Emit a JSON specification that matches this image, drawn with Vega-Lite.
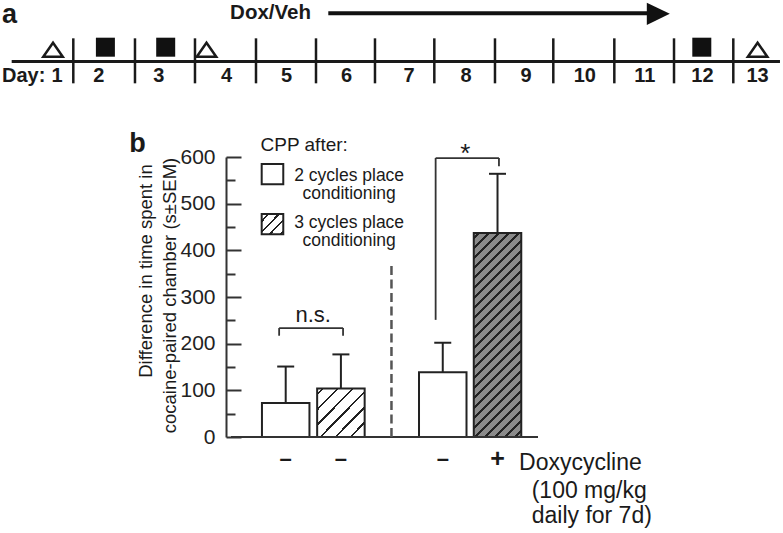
{
  "$schema": "https://vega.github.io/schema/vega-lite/v6.json",
  "width": 317,
  "height": 280,
  "autosize": {"type": "none"},
  "padding": {"left": 226, "top": 157, "right": 240, "bottom": 96},
  "background": "white",
  "config": {"view": {"stroke": null}, "font": "Liberation Sans", "text": {"color": "#1a1a1a"}},
  "datasets": {
    "boundaries": [{"b": 1.505}, {"b": 2.533}, {"b": 3.533}, {"b": 4.55}, {"b": 5.55}, {"b": 6.533}, {"b": 7.522}, {"b": 8.533}, {"b": 9.505}, {"b": 10.522}, {"b": 11.517}, {"b": 12.505}],
    "days": [{"label": "1", "day": 1.233}, {"label": "2", "day": 1.93}, {"label": "3", "day": 2.93}, {"label": "4", "day": 4.06}, {"label": "5", "day": 5.06}, {"label": "6", "day": 6.06}, {"label": "7", "day": 7.1}, {"label": "8", "day": 8.05}, {"label": "9", "day": 9.05}, {"label": "10", "day": 10.03}, {"label": "11", "day": 11.03}, {"label": "12", "day": 11.99}, {"label": "13", "day": 12.91}],
    "events": [{"day": 1.167, "session": "CPP test"}, {"day": 2.04, "session": "conditioning"}, {"day": 3.045, "session": "conditioning"}, {"day": 3.725, "session": "CPP test"}, {"day": 11.98, "session": "conditioning"}, {"day": 12.91, "session": "CPP test"}],
    "bars": [
      {"cycles": "2 cycles", "doxycycline": "–", "pos": 0.991, "mean": 73, "upper": 151},
      {"cycles": "3 cycles", "doxycycline": "–", "pos": 1.991, "mean": 104, "upper": 177},
      {"cycles": "2 cycles", "doxycycline": "–", "pos": 3.836, "mean": 139, "upper": 202},
      {"cycles": "3 cycles", "doxycycline": "+", "pos": 4.828, "mean": 437, "upper": 564}
    ]
  },
  "layer": [
    {
      "layer": [
        {
          "data": {"values": [{}]},
          "mark": {"type": "rule", "strokeWidth": 3, "color": "#1a1a1a"},
          "encoding": {
            "x": {"datum": 0.478, "type": "quantitative", "scale": {"domain": [4.05, 9.33333], "nice": false, "zero": false}, "axis": null},
            "x2": {"datum": 13.283},
            "y": {"datum": 0, "type": "quantitative", "scale": {"domain": [-16.6889, -4.2444], "nice": false, "zero": false}, "axis": null}
          }
        },
        {
          "data": {"name": "boundaries"},
          "mark": {"type": "rule", "strokeWidth": 2.5, "color": "#1a1a1a"},
          "encoding": {
            "x": {"field": "b", "type": "quantitative", "scale": {"domain": [4.05, 9.33333], "nice": false, "zero": false}, "axis": null},
            "y": {"datum": 1.03, "type": "quantitative", "scale": {"domain": [-16.6889, -4.2444], "nice": false, "zero": false}, "axis": null},
            "y2": {"datum": -0.97}
          }
        },
        {
          "data": {"name": "days"},
          "mark": {"type": "text", "fontSize": 20, "fontWeight": "bold", "align": "center", "baseline": "alphabetic"},
          "encoding": {
            "x": {"field": "day", "type": "quantitative", "scale": {"domain": [4.05, 9.33333], "nice": false, "zero": false}, "axis": null},
            "y": {"datum": -0.933, "type": "quantitative", "scale": {"domain": [-16.6889, -4.2444], "nice": false, "zero": false}, "axis": null},
            "text": {"field": "label"}
          }
        },
        {
          "data": {"values": [{}]},
          "mark": {"type": "text", "text": "Day:", "fontSize": 20, "fontWeight": "bold", "align": "left", "baseline": "alphabetic"},
          "encoding": {
            "x": {"datum": 0.3167, "type": "quantitative", "scale": {"domain": [4.05, 9.33333], "nice": false, "zero": false}, "axis": null},
            "y": {"datum": -0.933, "type": "quantitative", "scale": {"domain": [-16.6889, -4.2444], "nice": false, "zero": false}, "axis": null}
          }
        },
        {
          "data": {"name": "events"},
          "transform": [{"filter": "datum.session === 'CPP test'"}],
          "mark": {"type": "point", "shape": "M0,-0.72L1,0.72L-1,0.72Z", "size": 380, "filled": false, "fill": "white", "stroke": "#1a1a1a", "strokeWidth": 2.5, "opacity": 1},
          "encoding": {
            "x": {"field": "day", "type": "quantitative", "scale": {"domain": [4.05, 9.33333], "nice": false, "zero": false}, "axis": null},
            "y": {"datum": 0.524, "type": "quantitative", "scale": {"domain": [-16.6889, -4.2444], "nice": false, "zero": false}, "axis": null}
          }
        },
        {
          "data": {"name": "events"},
          "transform": [{"filter": "datum.session === 'conditioning'"}],
          "mark": {"type": "point", "shape": "square", "size": 361, "filled": true, "color": "#111111", "opacity": 1},
          "encoding": {
            "x": {"field": "day", "type": "quantitative", "scale": {"domain": [4.05, 9.33333], "nice": false, "zero": false}, "axis": null},
            "y": {"datum": 0.636, "type": "quantitative", "scale": {"domain": [-16.6889, -4.2444], "nice": false, "zero": false}, "axis": null}
          }
        },
        {
          "data": {"values": [{}]},
          "mark": {"type": "text", "text": "Dox/Veh", "fontSize": 20.5, "fontWeight": "bold", "align": "center", "baseline": "alphabetic"},
          "encoding": {
            "x": {"datum": 4.792, "type": "quantitative", "scale": {"domain": [4.05, 9.33333], "nice": false, "zero": false}, "axis": null},
            "y": {"datum": 1.876, "type": "quantitative", "scale": {"domain": [-16.6889, -4.2444], "nice": false, "zero": false}, "axis": null}
          }
        },
        {
          "data": {"values": [{}]},
          "mark": {"type": "rule", "strokeWidth": 4, "color": "#111111"},
          "encoding": {
            "x": {"datum": 5.755, "type": "quantitative", "scale": {"domain": [4.05, 9.33333], "nice": false, "zero": false}, "axis": null},
            "x2": {"datum": 11.117},
            "y": {"datum": 2.142, "type": "quantitative", "scale": {"domain": [-16.6889, -4.2444], "nice": false, "zero": false}, "axis": null}
          }
        },
        {
          "data": {"values": [{}]},
          "mark": {"type": "point", "shape": "M-1,-0.97L1,0L-1,0.97Z", "size": 529, "filled": true, "color": "#111111", "opacity": 1},
          "encoding": {
            "x": {"datum": 11.255, "type": "quantitative", "scale": {"domain": [4.05, 9.33333], "nice": false, "zero": false}, "axis": null},
            "y": {"datum": 2.12, "type": "quantitative", "scale": {"domain": [-16.6889, -4.2444], "nice": false, "zero": false}, "axis": null}
          }
        },
        {
          "data": {"values": [{}]},
          "mark": {"type": "text", "text": "a", "fontSize": 27, "fontWeight": "bold", "align": "left", "baseline": "alphabetic"},
          "encoding": {
            "x": {"datum": 0.317, "type": "quantitative", "scale": {"domain": [4.05, 9.33333], "nice": false, "zero": false}, "axis": null},
            "y": {"datum": 1.711, "type": "quantitative", "scale": {"domain": [-16.6889, -4.2444], "nice": false, "zero": false}, "axis": null}
          }
        }
      ]
    },
    {
      "resolve": {"axis": {"y": "independent"}},
      "layer": [
        {
          "data": {"name": "bars"},
          "transform": [{"filter": "datum.cycles === '2 cycles'"}],
          "mark": {"type": "bar", "orient": "vertical", "width": 47.5, "fill": "white", "stroke": "#222222", "strokeWidth": 2},
          "encoding": {
            "x": {"field": "pos", "type": "quantitative", "scale": {"domain": [0, 5.5614], "nice": false, "zero": false}, "axis": null},
            "y": {"field": "mean", "type": "quantitative", "scale": {"domain": [0, 600], "nice": false, "zero": false},
              "axis": {
                "orient": "left",
                "values": [0, 50, 100, 150, 200, 250, 300, 350, 400, 450, 500, 550, 600],
                "labelExpr": "datum.value % 100 === 0 ? datum.label : ''",
                "tickSize": {"condition": {"test": "datum.value % 100 === 0", "value": -15}, "value": -9},
                "labelPadding": 26,
                "title": null,
                "grid": false,
                "domainColor": "#333333",
                "domainWidth": 2,
                "tickColor": "#333333",
                "tickWidth": 2,
                "labelFontSize": 21,
                "labelColor": "#222222",
                "labelFont": "Liberation Sans",
                "labelFlush": false,
                "labelOverlap": false
              }
            },
            "y2": {"datum": 0}
          }
        },
        {
          "data": {"name": "bars"},
          "mark": {"type": "rule", "strokeWidth": 2, "color": "#222222"},
          "encoding": {
            "x": {"field": "pos", "type": "quantitative", "scale": {"domain": [0, 5.5614], "nice": false, "zero": false}, "axis": null},
            "y": {"field": "mean", "type": "quantitative", "scale": {"domain": [0, 600], "nice": false, "zero": false}, "axis": null},
            "y2": {"field": "upper"}
          }
        },
        {
          "data": {"name": "bars"},
          "mark": {"type": "tick", "orient": "horizontal", "size": 17, "thickness": 2, "color": "#222222", "opacity": 1},
          "encoding": {
            "x": {"field": "pos", "type": "quantitative", "scale": {"domain": [0, 5.5614], "nice": false, "zero": false}, "axis": null},
            "y": {"field": "upper", "type": "quantitative", "scale": {"domain": [0, 600], "nice": false, "zero": false}, "axis": null}
          }
        },
        {
          "data": {"name": "bars"},
          "transform": [{"filter": "datum.cycles === '3 cycles' && datum.doxycycline !== '+'"}],
          "mark": {"type": "bar", "orient": "vertical", "width": 47.5, "stroke": "#222222", "strokeWidth": 2,
            "fill": {"gradient": "linear", "x1": 0, "y1": 0, "x2": 1, "y2": 1, "stops": [
              {"offset": 0, "color": "#ffffff"},
              {"offset": 0.047, "color": "#ffffff"}, {"offset": 0.047, "color": "#222222"}, {"offset": 0.073, "color": "#222222"}, {"offset": 0.073, "color": "#ffffff"},
              {"offset": 0.205, "color": "#ffffff"}, {"offset": 0.205, "color": "#222222"}, {"offset": 0.231, "color": "#222222"}, {"offset": 0.231, "color": "#ffffff"},
              {"offset": 0.363, "color": "#ffffff"}, {"offset": 0.363, "color": "#222222"}, {"offset": 0.389, "color": "#222222"}, {"offset": 0.389, "color": "#ffffff"},
              {"offset": 0.521, "color": "#ffffff"}, {"offset": 0.521, "color": "#222222"}, {"offset": 0.547, "color": "#222222"}, {"offset": 0.547, "color": "#ffffff"},
              {"offset": 0.679, "color": "#ffffff"}, {"offset": 0.679, "color": "#222222"}, {"offset": 0.705, "color": "#222222"}, {"offset": 0.705, "color": "#ffffff"},
              {"offset": 0.837, "color": "#ffffff"}, {"offset": 0.837, "color": "#222222"}, {"offset": 0.863, "color": "#222222"}, {"offset": 0.863, "color": "#ffffff"},
              {"offset": 1, "color": "#ffffff"}
            ]}},
          "encoding": {
            "x": {"field": "pos", "type": "quantitative", "scale": {"domain": [0, 5.5614], "nice": false, "zero": false}, "axis": null},
            "y": {"field": "mean", "type": "quantitative", "scale": {"domain": [0, 600], "nice": false, "zero": false}, "axis": null},
            "y2": {"datum": 0}
          }
        },
        {
          "data": {"name": "bars"},
          "transform": [{"filter": "datum.doxycycline === '+'"}],
          "mark": {"type": "bar", "orient": "vertical", "width": 47.5, "stroke": "#222222", "strokeWidth": 2,
            "fill": {"gradient": "linear", "x1": 0, "y1": 0, "x2": 0.2725, "y2": 1.1695, "stops": [
              {"offset": 0, "color": "#8a8a8a"},
              {"offset": 0.0145, "color": "#8a8a8a"}, {"offset": 0.0145, "color": "#222222"}, {"offset": 0.0255, "color": "#222222"}, {"offset": 0.0255, "color": "#8a8a8a"},
              {"offset": 0.0543, "color": "#8a8a8a"}, {"offset": 0.0543, "color": "#222222"}, {"offset": 0.0653, "color": "#222222"}, {"offset": 0.0653, "color": "#8a8a8a"},
              {"offset": 0.0941, "color": "#8a8a8a"}, {"offset": 0.0941, "color": "#222222"}, {"offset": 0.1051, "color": "#222222"}, {"offset": 0.1051, "color": "#8a8a8a"},
              {"offset": 0.1339, "color": "#8a8a8a"}, {"offset": 0.1339, "color": "#222222"}, {"offset": 0.1449, "color": "#222222"}, {"offset": 0.1449, "color": "#8a8a8a"},
              {"offset": 0.1737, "color": "#8a8a8a"}, {"offset": 0.1737, "color": "#222222"}, {"offset": 0.1847, "color": "#222222"}, {"offset": 0.1847, "color": "#8a8a8a"},
              {"offset": 0.2135, "color": "#8a8a8a"}, {"offset": 0.2135, "color": "#222222"}, {"offset": 0.2245, "color": "#222222"}, {"offset": 0.2245, "color": "#8a8a8a"},
              {"offset": 0.2533, "color": "#8a8a8a"}, {"offset": 0.2533, "color": "#222222"}, {"offset": 0.2643, "color": "#222222"}, {"offset": 0.2643, "color": "#8a8a8a"},
              {"offset": 0.2931, "color": "#8a8a8a"}, {"offset": 0.2931, "color": "#222222"}, {"offset": 0.3041, "color": "#222222"}, {"offset": 0.3041, "color": "#8a8a8a"},
              {"offset": 0.3329, "color": "#8a8a8a"}, {"offset": 0.3329, "color": "#222222"}, {"offset": 0.3439, "color": "#222222"}, {"offset": 0.3439, "color": "#8a8a8a"},
              {"offset": 0.3727, "color": "#8a8a8a"}, {"offset": 0.3727, "color": "#222222"}, {"offset": 0.3837, "color": "#222222"}, {"offset": 0.3837, "color": "#8a8a8a"},
              {"offset": 0.4125, "color": "#8a8a8a"}, {"offset": 0.4125, "color": "#222222"}, {"offset": 0.4235, "color": "#222222"}, {"offset": 0.4235, "color": "#8a8a8a"},
              {"offset": 0.4523, "color": "#8a8a8a"}, {"offset": 0.4523, "color": "#222222"}, {"offset": 0.4633, "color": "#222222"}, {"offset": 0.4633, "color": "#8a8a8a"},
              {"offset": 0.4921, "color": "#8a8a8a"}, {"offset": 0.4921, "color": "#222222"}, {"offset": 0.5031, "color": "#222222"}, {"offset": 0.5031, "color": "#8a8a8a"},
              {"offset": 0.5319, "color": "#8a8a8a"}, {"offset": 0.5319, "color": "#222222"}, {"offset": 0.5429, "color": "#222222"}, {"offset": 0.5429, "color": "#8a8a8a"},
              {"offset": 0.5717, "color": "#8a8a8a"}, {"offset": 0.5717, "color": "#222222"}, {"offset": 0.5827, "color": "#222222"}, {"offset": 0.5827, "color": "#8a8a8a"},
              {"offset": 0.6115, "color": "#8a8a8a"}, {"offset": 0.6115, "color": "#222222"}, {"offset": 0.6225, "color": "#222222"}, {"offset": 0.6225, "color": "#8a8a8a"},
              {"offset": 0.6513, "color": "#8a8a8a"}, {"offset": 0.6513, "color": "#222222"}, {"offset": 0.6623, "color": "#222222"}, {"offset": 0.6623, "color": "#8a8a8a"},
              {"offset": 0.6911, "color": "#8a8a8a"}, {"offset": 0.6911, "color": "#222222"}, {"offset": 0.7021, "color": "#222222"}, {"offset": 0.7021, "color": "#8a8a8a"},
              {"offset": 0.7309, "color": "#8a8a8a"}, {"offset": 0.7309, "color": "#222222"}, {"offset": 0.7419, "color": "#222222"}, {"offset": 0.7419, "color": "#8a8a8a"},
              {"offset": 0.7707, "color": "#8a8a8a"}, {"offset": 0.7707, "color": "#222222"}, {"offset": 0.7817, "color": "#222222"}, {"offset": 0.7817, "color": "#8a8a8a"},
              {"offset": 0.8105, "color": "#8a8a8a"}, {"offset": 0.8105, "color": "#222222"}, {"offset": 0.8215, "color": "#222222"}, {"offset": 0.8215, "color": "#8a8a8a"},
              {"offset": 0.8503, "color": "#8a8a8a"}, {"offset": 0.8503, "color": "#222222"}, {"offset": 0.8613, "color": "#222222"}, {"offset": 0.8613, "color": "#8a8a8a"},
              {"offset": 0.8901, "color": "#8a8a8a"}, {"offset": 0.8901, "color": "#222222"}, {"offset": 0.9011, "color": "#222222"}, {"offset": 0.9011, "color": "#8a8a8a"},
              {"offset": 0.9299, "color": "#8a8a8a"}, {"offset": 0.9299, "color": "#222222"}, {"offset": 0.9409, "color": "#222222"}, {"offset": 0.9409, "color": "#8a8a8a"},
              {"offset": 0.9697, "color": "#8a8a8a"}, {"offset": 0.9697, "color": "#222222"}, {"offset": 0.9807, "color": "#222222"}, {"offset": 0.9807, "color": "#8a8a8a"},
              {"offset": 1, "color": "#8a8a8a"}
            ]}},
          "encoding": {
            "x": {"field": "pos", "type": "quantitative", "scale": {"domain": [0, 5.5614], "nice": false, "zero": false}, "axis": null},
            "y": {"field": "mean", "type": "quantitative", "scale": {"domain": [0, 600], "nice": false, "zero": false}, "axis": null},
            "y2": {"datum": 0}
          }
        },
        {
          "data": {"name": "bars"},
          "mark": {"type": "text", "fontWeight": "bold", "align": "center", "baseline": "middle"},
          "encoding": {
            "x": {"field": "pos", "type": "quantitative", "scale": {"domain": [0, 5.5614], "nice": false, "zero": false}, "axis": null},
            "y": {"datum": -46.5, "type": "quantitative", "scale": {"domain": [0, 600], "nice": false, "zero": false}, "axis": null},
            "text": {"field": "doxycycline"},
            "size": {"condition": {"test": "datum.doxycycline === '+'", "value": 25}, "value": 22}
          }
        },
        {
          "data": {"values": [{}]},
          "mark": {"type": "rule", "strokeWidth": 2, "color": "#333333"},
          "encoding": {
            "x": {"datum": 0, "type": "quantitative", "scale": {"domain": [0, 5.5614], "nice": false, "zero": false}, "axis": null},
            "x2": {"datum": 5.5614},
            "y": {"datum": 0, "type": "quantitative", "scale": {"domain": [0, 600], "nice": false, "zero": false}, "axis": null}
          }
        },
        {
          "data": {"values": [{}]},
          "mark": {"type": "rule", "strokeWidth": 2.5, "color": "#555555", "strokeDash": [9, 4.5]},
          "encoding": {
            "x": {"datum": 2.907, "type": "quantitative", "scale": {"domain": [0, 5.5614], "nice": false, "zero": false}, "axis": null},
            "y": {"datum": 0, "type": "quantitative", "scale": {"domain": [0, 600], "nice": false, "zero": false}, "axis": null},
            "y2": {"datum": 369}
          }
        },
        {
          "data": {"values": [{}]},
          "mark": {"type": "rule", "strokeWidth": 1.8, "color": "#333333"},
          "encoding": {
            "x": {"datum": 0.872, "type": "quantitative", "scale": {"domain": [0, 5.5614], "nice": false, "zero": false}, "axis": null},
            "x2": {"datum": 2.03},
            "y": {"datum": 233.5, "type": "quantitative", "scale": {"domain": [0, 600], "nice": false, "zero": false}, "axis": null}
          }
        },
        {
          "data": {"values": [{}]},
          "mark": {"type": "rule", "strokeWidth": 1.8, "color": "#333333"},
          "encoding": {
            "x": {"datum": 0.872, "type": "quantitative", "scale": {"domain": [0, 5.5614], "nice": false, "zero": false}, "axis": null},
            "y": {"datum": 233.5, "type": "quantitative", "scale": {"domain": [0, 600], "nice": false, "zero": false}, "axis": null},
            "y2": {"datum": 217}
          }
        },
        {
          "data": {"values": [{}]},
          "mark": {"type": "rule", "strokeWidth": 1.8, "color": "#333333"},
          "encoding": {
            "x": {"datum": 2.03, "type": "quantitative", "scale": {"domain": [0, 5.5614], "nice": false, "zero": false}, "axis": null},
            "y": {"datum": 233.5, "type": "quantitative", "scale": {"domain": [0, 600], "nice": false, "zero": false}, "axis": null},
            "y2": {"datum": 217}
          }
        },
        {
          "data": {"values": [{}]},
          "mark": {"type": "text", "text": "n.s.", "fontSize": 22, "align": "center", "baseline": "alphabetic"},
          "encoding": {
            "x": {"datum": 1.488, "type": "quantitative", "scale": {"domain": [0, 5.5614], "nice": false, "zero": false}, "axis": null},
            "y": {"datum": 245.6, "type": "quantitative", "scale": {"domain": [0, 600], "nice": false, "zero": false}, "axis": null}
          }
        },
        {
          "data": {"values": [{}]},
          "mark": {"type": "rule", "strokeWidth": 1.8, "color": "#333333"},
          "encoding": {
            "x": {"datum": 3.707, "type": "quantitative", "scale": {"domain": [0, 5.5614], "nice": false, "zero": false}, "axis": null},
            "x2": {"datum": 4.854},
            "y": {"datum": 597.8, "type": "quantitative", "scale": {"domain": [0, 600], "nice": false, "zero": false}, "axis": null}
          }
        },
        {
          "data": {"values": [{}]},
          "mark": {"type": "rule", "strokeWidth": 1.8, "color": "#333333"},
          "encoding": {
            "x": {"datum": 3.707, "type": "quantitative", "scale": {"domain": [0, 5.5614], "nice": false, "zero": false}, "axis": null},
            "y": {"datum": 597.8, "type": "quantitative", "scale": {"domain": [0, 600], "nice": false, "zero": false}, "axis": null},
            "y2": {"datum": 251}
          }
        },
        {
          "data": {"values": [{}]},
          "mark": {"type": "rule", "strokeWidth": 1.8, "color": "#333333"},
          "encoding": {
            "x": {"datum": 4.854, "type": "quantitative", "scale": {"domain": [0, 5.5614], "nice": false, "zero": false}, "axis": null},
            "y": {"datum": 597.8, "type": "quantitative", "scale": {"domain": [0, 600], "nice": false, "zero": false}, "axis": null},
            "y2": {"datum": 580}
          }
        },
        {
          "data": {"values": [{}]},
          "mark": {"type": "text", "text": "*", "fontSize": 26, "align": "center", "baseline": "alphabetic"},
          "encoding": {
            "x": {"datum": 4.246, "type": "quantitative", "scale": {"domain": [0, 5.5614], "nice": false, "zero": false}, "axis": null},
            "y": {"datum": 590, "type": "quantitative", "scale": {"domain": [0, 600], "nice": false, "zero": false}, "axis": null}
          }
        },
        {
          "data": {"values": [{}]},
          "mark": {"type": "text", "text": "CPP after:", "fontSize": 19, "align": "left", "baseline": "alphabetic"},
          "encoding": {
            "x": {"datum": 0.535, "type": "quantitative", "scale": {"domain": [0, 5.5614], "nice": false, "zero": false}, "axis": null},
            "y": {"datum": 612.9, "type": "quantitative", "scale": {"domain": [0, 600], "nice": false, "zero": false}, "axis": null}
          }
        },
        {
          "data": {"values": [{}]},
          "mark": {"type": "rect", "fill": "white", "stroke": "#222222", "strokeWidth": 2},
          "encoding": {
            "x": {"datum": 0.556, "type": "quantitative", "scale": {"domain": [0, 5.5614], "nice": false, "zero": false}, "axis": null},
            "x2": {"datum": 0.947},
            "y": {"datum": 585, "type": "quantitative", "scale": {"domain": [0, 600], "nice": false, "zero": false}, "axis": null},
            "y2": {"datum": 541.5}
          }
        },
        {
          "data": {"values": [{}]},
          "mark": {"type": "rect", "stroke": "#222222", "strokeWidth": 2,
            "fill": {"gradient": "linear", "x1": 0, "y1": 0, "x2": 1.045, "y2": 0.951, "stops": [
              {"offset": 0, "color": "#ffffff"},
              {"offset": 0.143, "color": "#ffffff"}, {"offset": 0.143, "color": "#222222"}, {"offset": 0.197, "color": "#222222"}, {"offset": 0.197, "color": "#ffffff"},
              {"offset": 0.393, "color": "#ffffff"}, {"offset": 0.393, "color": "#222222"}, {"offset": 0.447, "color": "#222222"}, {"offset": 0.447, "color": "#ffffff"},
              {"offset": 0.643, "color": "#ffffff"}, {"offset": 0.643, "color": "#222222"}, {"offset": 0.697, "color": "#222222"}, {"offset": 0.697, "color": "#ffffff"},
              {"offset": 0.893, "color": "#ffffff"}, {"offset": 0.893, "color": "#222222"}, {"offset": 0.947, "color": "#222222"}, {"offset": 0.947, "color": "#ffffff"},
              {"offset": 1, "color": "#ffffff"}
            ]}},
          "encoding": {
            "x": {"datum": 0.556, "type": "quantitative", "scale": {"domain": [0, 5.5614], "nice": false, "zero": false}, "axis": null},
            "x2": {"datum": 0.947},
            "y": {"datum": 477.9, "type": "quantitative", "scale": {"domain": [0, 600], "nice": false, "zero": false}, "axis": null},
            "y2": {"datum": 434.4}
          }
        },
        {
          "data": {"values": [{}]},
          "mark": {"type": "text", "text": ["2 cycles place", "conditioning"], "fontSize": 17.5, "lineHeight": 18.5, "align": "center", "baseline": "alphabetic"},
          "encoding": {
            "x": {"datum": 2.14, "type": "quantitative", "scale": {"domain": [0, 5.5614], "nice": false, "zero": false}, "axis": null},
            "y": {"datum": 548.6, "type": "quantitative", "scale": {"domain": [0, 600], "nice": false, "zero": false}, "axis": null}
          }
        },
        {
          "data": {"values": [{}]},
          "mark": {"type": "text", "text": ["3 cycles place", "conditioning"], "fontSize": 17.5, "lineHeight": 18.5, "align": "center", "baseline": "alphabetic"},
          "encoding": {
            "x": {"datum": 2.14, "type": "quantitative", "scale": {"domain": [0, 5.5614], "nice": false, "zero": false}, "axis": null},
            "y": {"datum": 447.9, "type": "quantitative", "scale": {"domain": [0, 600], "nice": false, "zero": false}, "axis": null}
          }
        },
        {
          "data": {"values": [{}]},
          "mark": {"type": "text", "text": "b", "fontSize": 27, "fontWeight": "bold", "align": "left", "baseline": "alphabetic"},
          "encoding": {
            "x": {"datum": -1.842, "type": "quantitative", "scale": {"domain": [0, 5.5614], "nice": false, "zero": false}, "axis": null},
            "y": {"datum": 610.1, "type": "quantitative", "scale": {"domain": [0, 600], "nice": false, "zero": false}, "axis": null}
          }
        },
        {
          "data": {"values": [{}]},
          "mark": {"type": "text", "text": "Difference in time spent in", "fontSize": 18.5, "angle": 270, "align": "center", "baseline": "middle"},
          "encoding": {
            "x": {"datum": -1.5439, "type": "quantitative", "scale": {"domain": [0, 5.5614], "nice": false, "zero": false}, "axis": null},
            "y": {"datum": 355.7, "type": "quantitative", "scale": {"domain": [0, 600], "nice": false, "zero": false}, "axis": null}
          }
        },
        {
          "data": {"values": [{}]},
          "mark": {"type": "text", "text": "cocaine-paired chamber (s±SEM)", "fontSize": 18.5, "angle": 270, "align": "center", "baseline": "middle"},
          "encoding": {
            "x": {"datum": -1.1053, "type": "quantitative", "scale": {"domain": [0, 5.5614], "nice": false, "zero": false}, "axis": null},
            "y": {"datum": 303.2, "type": "quantitative", "scale": {"domain": [0, 600], "nice": false, "zero": false}, "axis": null}
          }
        },
        {
          "data": {"values": [{}]},
          "mark": {"type": "text", "text": "Doxycycline", "fontSize": 23, "align": "left", "baseline": "alphabetic"},
          "encoding": {
            "x": {"datum": 5.219, "type": "quantitative", "scale": {"domain": [0, 5.5614], "nice": false, "zero": false}, "axis": null},
            "y": {"datum": -70.7, "type": "quantitative", "scale": {"domain": [0, 600], "nice": false, "zero": false}, "axis": null}
          }
        },
        {
          "data": {"values": [{}]},
          "mark": {"type": "text", "text": ["(100 mg/kg", "daily for 7d)"], "fontSize": 23, "lineHeight": 25.5, "align": "left", "baseline": "alphabetic"},
          "encoding": {
            "x": {"datum": 5.447, "type": "quantitative", "scale": {"domain": [0, 5.5614], "nice": false, "zero": false}, "axis": null},
            "y": {"datum": -130.7, "type": "quantitative", "scale": {"domain": [0, 600], "nice": false, "zero": false}, "axis": null}
          }
        }
      ]
    }
  ],
  "resolve": {"scale": {"x": "independent", "y": "independent"}}
}
